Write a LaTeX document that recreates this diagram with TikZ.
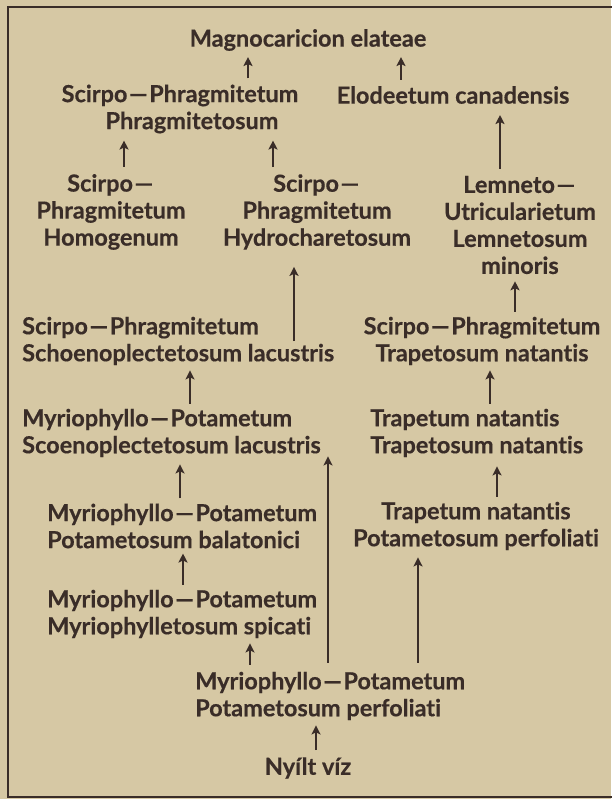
\documentclass[tikz,border=0pt]{standalone}
\usepackage{fontspec}
\setmainfont{Lato}[UprightFont=* Bold, Ligatures={NoCommon}, FakeBold=0.4]
\usetikzlibrary{arrows.meta,calc}
\definecolor{paper}{RGB}{214,200,164}
\definecolor{ink}{RGB}{58,45,40}
\newcommand{\dsh}{\kern1.5pt---\kern1.5pt}
\tikzset{
  lbl/.style={inner sep=0pt, text=ink, font=\fontsize{23.5}{27}\selectfont},
  ctr/.style={lbl, align=center},
  lft/.style={lbl, align=left, anchor=west},
  arr/.style={draw=ink, line width=2pt, -{Stealth[length=9pt,width=9pt,inset=2pt]}},
}
\begin{document}
\begin{tikzpicture}[x=1pt,y=-1pt]
\useasboundingbox (0,0) rectangle (611,799);
\fill[paper] (0,0) rectangle (611,799);
\draw[ink, line width=2pt] (615,7) -- (8,7) -- (8,797) -- (615,797);
% nodes
\node[ctr] (mag) at (308,40) {Magnocaricion elateae};
\node[ctr] (spp) at (180,109) {Scirpo\dsh Phragmitetum\\\hspace*{24pt}Phragmitetosum};
\node[ctr] (elo) at (453,95) {Elodeetum canadensis};
\node[ctr] (sh)  at (111,212) {Scirpo\dsh\\Phragmitetum\\Homogenum};
\node[ctr] (shy) at (317,212) {Scirpo\dsh\\Phragmitetum\\Hydrocharetosum};
\node[ctr] (lem) at (520,225) {Lemneto\dsh\\Utricularietum\\Lemnetosum\\minoris};
\node[lft] (ssl) at (22,341) {Scirpo\dsh Phragmitetum\\Schoenoplectetosum lacustris};
\node[ctr] (stn) at (482,341) {Scirpo\dsh Phragmitetum\\Trapetosum natantis};
\node[lft] (msl) at (22,433) {Myriophyllo\dsh Potametum\\Scoenoplectetosum lacustris};
\node[lft] (ttn) at (370,433) {Trapetum natantis\\Trapetosum natantis};
\node[lft] (mpb) at (47,526) {Myriophyllo\dsh Potametum\\Potametosum balatonici};
\node[ctr] (tpp) at (476,526) {Trapetum natantis\\Potametosum perfoliati};
\node[lft] (mms) at (47,614) {Myriophyllo\dsh Potametum\\Myriophylletosum spicati};
\node[lft] (mpp) at (195,696) {Myriophyllo\dsh Potametum\\Potametosum perfoliati};
\node[ctr] (nyv) at (308,768) {Nyílt víz};
% arrow columns
\coordinate (c1) at (248,0);
\coordinate (c2) at (401,0);
\coordinate (c3) at (124,0);
\coordinate (c4) at (273,0);
\coordinate (c5) at (500,0);
\coordinate (c6) at (294,0);
\coordinate (c7) at (515,0);
\coordinate (c8) at (190,0);
\coordinate (c9) at (490,0);
\coordinate (c10) at (180,0);
\coordinate (c11) at (497,0);
\coordinate (c12) at (183,0);
\coordinate (c13) at (328,0);
\coordinate (c14) at (418,0);
\coordinate (c15) at (250,0);
\coordinate (c16) at (316,0);
% arrows
\draw[arr] (spp.north -| c1) ++(0,-6) -- ($(mag.south -| c1)+(0,6)$);
\draw[arr] (elo.north -| c2) ++(0,-6) -- ($(mag.south -| c2)+(0,6)$);
\draw[arr] (sh.north -| c3) ++(0,-7) -- ($(spp.south -| c3)+(0,7)$);
\draw[arr] (shy.north -| c4) ++(0,-7) -- ($(spp.south -| c4)+(0,7)$);
\draw[arr] (lem.north -| c5) ++(0,-7) -- ($(elo.south -| c5)+(0,11)$);
\draw[arr] (ssl.center -| c6) -- ($(shy.south -| c6)+(0,17)$);
\draw[arr] (stn.north -| c7) ++(0,-5) -- ($(lem.south -| c7)+(0,7)$);
\draw[arr] (msl.north -| c8) ++(0,-5) -- ($(ssl.south -| c8)+(0,5)$);
\draw[arr] (ttn.north -| c9) ++(0,-5) -- ($(stn.south -| c9)+(0,5)$);
\draw[arr] (mpb.north -| c10) ++(0,-5) -- ($(msl.south -| c10)+(0,7)$);
\draw[arr] (tpp.north -| c11) ++(0,-5) -- ($(ttn.south -| c11)+(0,9)$);
\draw[arr] (mms.north -| c12) ++(0,-5) -- ($(mpb.south -| c12)+(0,5)$);
\draw[arr] (mpp.north -| c13) ++(0,-9) -- ($(msl.south -| c13)+(0,-1)$);
\draw[arr] (mpp.north -| c14) ++(0,-9) -- ($(tpp.south -| c14)+(0,7)$);
\draw[arr] (mpp.north -| c15) ++(0,-7) -- ($(mms.south -| c15)+(0,5)$);
\draw[arr] (nyv.north -| c16) ++(0,-7) -- ($(mpp.south -| c16)+(0,5)$);
\end{tikzpicture}
\end{document}
